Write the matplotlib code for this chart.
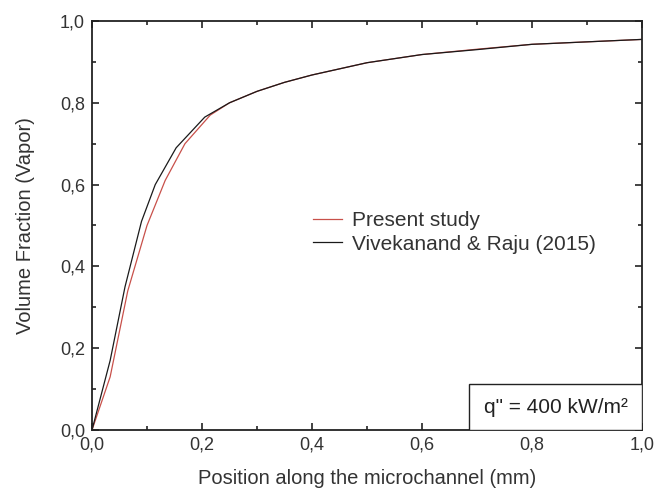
import matplotlib
matplotlib.use("Agg")
import matplotlib.pyplot as plt
from matplotlib.ticker import MultipleLocator, FuncFormatter
from matplotlib.patches import Rectangle

plt.rcParams['font.family'] = ['Liberation Sans', 'DejaVu Sans']

# Present study (red)
present_x = [0, 0.033, 0.065, 0.1, 0.133, 0.169, 0.215, 0.25, 0.3, 0.35, 0.4, 0.45, 0.5, 0.6, 0.7, 0.8, 0.9, 1.0]
present_y = [0, 0.13, 0.34, 0.50, 0.61, 0.70, 0.77, 0.80, 0.828, 0.85, 0.868, 0.883, 0.898, 0.918, 0.931, 0.943, 0.949, 0.955]

# Vivekanand & Raju (2015) (black)
viv_x = [0, 0.033, 0.06, 0.09, 0.115, 0.153, 0.205, 0.25, 0.3, 0.35, 0.4, 0.45, 0.5, 0.6, 0.7, 0.8, 0.9, 1.0]
viv_y = [0, 0.17, 0.35, 0.51, 0.60, 0.69, 0.765, 0.80, 0.828, 0.85, 0.868, 0.883, 0.898, 0.918, 0.930, 0.943, 0.949, 0.955]

fig = plt.figure(figsize=(6.55, 4.91), dpi=100)
ax = fig.add_axes([92/655, 1-430/491, 550/655, 409/491])

ax.plot(present_x, present_y, color='#c8504a', lw=0.9, label='Present study')
ax.plot(viv_x, viv_y, color='#1a1a1a', lw=0.9, label='Vivekanand & Raju (2015)')

ax.set_xlim(0, 1.0)
ax.set_ylim(0, 1.0)
ax.xaxis.set_major_locator(MultipleLocator(0.2))
ax.xaxis.set_minor_locator(MultipleLocator(0.1))
ax.yaxis.set_major_locator(MultipleLocator(0.2))
ax.yaxis.set_minor_locator(MultipleLocator(0.1))
fmt = FuncFormatter(lambda v, p: f"{v:.1f}".replace('.', ','))
ax.xaxis.set_major_formatter(fmt)
ax.yaxis.set_major_formatter(fmt)
ax.tick_params(which='both', direction='in', top=True, right=True, width=1.2, colors='#222222', labelcolor='#333333')
ax.tick_params(which='major', length=5, labelsize=13, pad=5)
ax.tick_params(which='minor', length=3)
for s in ax.spines.values():
    s.set_linewidth(1.3)
    s.set_color('#222222')

ax.set_xlabel('Position along the microchannel (mm)', fontsize=14.5, color='#333333', labelpad=11)
ax.set_ylabel('Volume Fraction (Vapor)', fontsize=14.5, color='#333333', labelpad=18)

leg = ax.legend(loc='upper left', bbox_to_anchor=(0.402, 0.535), frameon=False,
                borderpad=0, borderaxespad=0,
                fontsize=15, handlelength=1.4, handletextpad=0.45, labelspacing=0.22)
for t in leg.get_texts():
    t.set_color('#333333')

ax.add_patch(Rectangle((0.685, 0.0), 0.315, 0.112, transform=ax.transAxes,
                       fc='white', ec='#222222', lw=1.0, zorder=5))
ax.text(0.844, 0.054, 'q" = 400 kW/m²', transform=ax.transAxes, fontsize=15,
        color='#222222', ha='center', va='center', zorder=6)

fig.savefig('out.png', dpi=100)
